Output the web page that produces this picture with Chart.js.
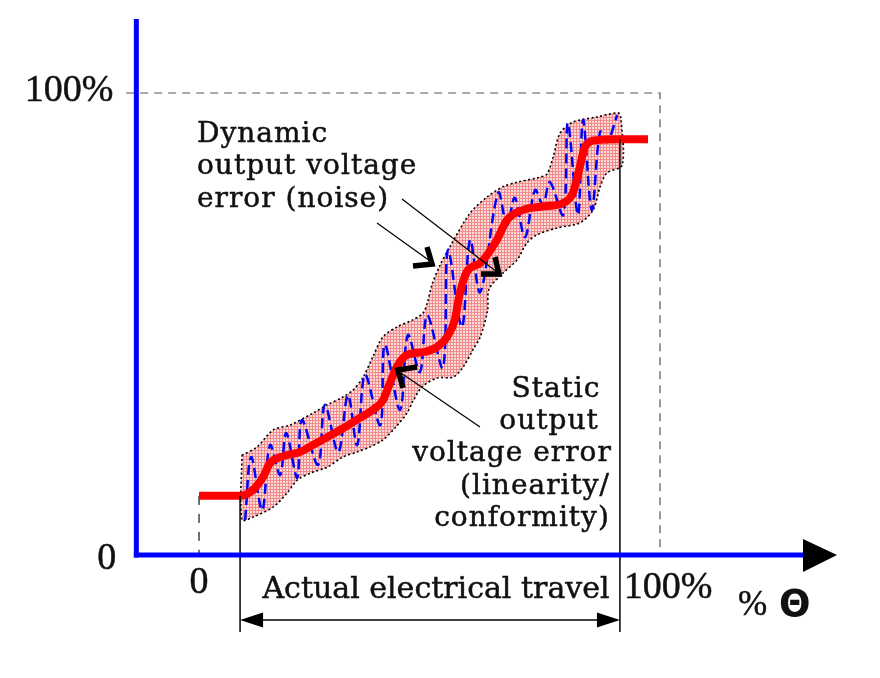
<!DOCTYPE html>
<html>
<head>
<meta charset="utf-8">
<script src="https://cdn.jsdelivr.net/npm/chart.js@4.4.1/dist/chart.umd.min.js"></script>
<style>
  html, body { margin: 0; background: #fff; }
  canvas { display: block; }
</style>
</head>
<body>
<canvas id="chart" width="880" height="678"></canvas>
<script>
// static output (red): % output vs % travel
const staticX = [0, 8.9, 11.7, 13.9, 15.4, 17.6, 21.9, 24.7, 27.8, 31.7, 34.9, 37.7, 39.9, 41.4, 42.9, 45.1, 48.6, 51.6, 53.8, 55.5, 56.4, 58.1, 61.0, 64.6, 66.8, 70.3, 75.1, 79.0, 81.1, 82.6, 83.7, 86.3, 91.3, 97.4];
const staticY = [12.8, 12.8, 14.1, 16.9, 19.9, 21.2, 22.3, 23.8, 25.5, 27.7, 29.7, 31.4, 33.5, 37.2, 40.7, 43.3, 43.9, 45.0, 47.2, 50.9, 55.8, 61.3, 63.2, 68.2, 72.5, 74.7, 75.5, 76.2, 78.4, 84.0, 88.3, 89.8, 90.0, 90.0];

// dynamic output with noise (blue dashed)
const noiseX = [10.0, 11.3, 13.7, 15.4, 17.6, 18.9, 21.3, 22.3, 25.8, 27.3, 30.2, 32.3, 34.3, 36.0, 39.3, 40.3, 43.6, 45.3, 47.9, 49.5, 52.9, 54.0, 57.0, 58.8, 61.0, 64.9, 66.8, 68.5, 70.7, 72.9, 74.6, 76.1, 79.0, 80.0, 82.2, 83.3, 85.2, 87.0, 88.5, 90.7];
const noiseY = [7.6, 21.2, 9.7, 23.8, 17.3, 26.4, 16.7, 29.2, 19.5, 32.5, 22.3, 34.6, 23.8, 39.0, 28.1, 45.5, 31.4, 47.6, 39.6, 51.9, 40.5, 66.0, 49.4, 68.2, 56.9, 78.4, 71.4, 77.3, 68.8, 79.0, 75.8, 80.7, 73.6, 93.5, 73.6, 94.2, 74.7, 91.6, 89.4, 95.2];

// error band outline: upper edge left->right, then lower edge right->left
const bandX = [9.3, 12.6, 16.1, 19.7, 24.7, 27.8, 31.2, 33.4, 35.6, 37.7, 39.9, 43.0, 46.4, 48.6, 49.5, 50.5, 52.3, 54.4, 58.8, 62.5, 65.9, 69.0, 74.0, 75.5, 76.8, 78.3, 81.1, 86.3, 90.9, 91.5, 91.8,
               88.5, 87.0, 85.5, 82.6, 77.7, 73.3, 71.1, 69.0, 65.9, 62.9, 62.6, 61.0, 59.4, 57.3, 55.1, 51.6, 48.4, 46.4, 45.1, 42.5, 39.9, 37.1, 34.3, 31.2, 27.8, 24.1, 21.3, 19.1, 16.1, 11.7, 9.3, 9.3];
const bandY = [21.6, 23.4, 27.1, 28.1, 30.7, 32.5, 34.2, 35.7, 38.5, 42.9, 47.2, 49.4, 50.9, 52.4, 54.5, 58.4, 62.8, 66.7, 74.0, 77.5, 79.7, 80.7, 81.8, 82.5, 86.1, 91.3, 93.7, 94.8, 95.7, 94.6, 84.4,
               82.7, 79.7, 74.7, 71.9, 70.8, 69.3, 67.5, 63.9, 61.0, 57.5, 53.0, 47.2, 44.4, 40.7, 38.5, 38.3, 36.4, 33.3, 30.7, 27.5, 24.9, 23.4, 22.3, 21.2, 19.0, 17.7, 16.2, 13.4, 10.4, 8.2, 7.6, 21.6];

const yTicks = [0, 100];
const xTicks = [0, 100];
const tickText = ['0', '100%'];
const travelStart = 8.9;
const travelEnd = 91.3;

const toPoints = (xs, ys) => xs.map((v, i) => ({ x: v, y: ys[i] }));

const canvas = document.getElementById('chart');

// pink checked fill like the original
const tile = document.createElement('canvas');
tile.width = 3; tile.height = 3;
const tctx = tile.getContext('2d');
tctx.fillStyle = '#fcdada';
tctx.fillRect(0, 0, 3, 3);
tctx.fillStyle = '#f08c8c';
tctx.fillRect(0, 0, 3, 1);
tctx.fillRect(0, 0, 1, 3);
const bandFill = canvas.getContext('2d').createPattern(tile, 'repeat');

const line = (ctx, x1, y1, x2, y2) => {
  ctx.beginPath();
  ctx.moveTo(x1, y1);
  ctx.lineTo(x2, y2);
  ctx.stroke();
};

const tri = (ctx, pts) => {
  ctx.beginPath();
  ctx.moveTo(pts[0], pts[1]);
  ctx.lineTo(pts[2], pts[3]);
  ctx.lineTo(pts[4], pts[5]);
  ctx.closePath();
  ctx.fill();
};

const chevron = (ctx, tipX, tipY, ax, ay, bx, by) => {
  ctx.save();
  ctx.lineWidth = 5.5;
  ctx.lineJoin = 'miter';
  ctx.beginPath();
  ctx.moveTo(ax, ay);
  ctx.lineTo(tipX, tipY);
  ctx.lineTo(bx, by);
  ctx.stroke();
  ctx.restore();
};

// text with a hairline stroke so it reads as heavy as the original
const label = (ctx, s, x, y) => {
  ctx.fillText(s, x, y);
  ctx.strokeText(s, x, y);
};

const decor = {
  id: 'decor',
  beforeDatasetsDraw(chart) {
    const { ctx, scales: { x, y } } = chart;
    ctx.save();
    ctx.strokeStyle = '#555';
    ctx.lineWidth = 1.2;
    ctx.setLineDash([8, 6]);
    ctx.beginPath();
    ctx.moveTo(x.getPixelForValue(-15.8), y.getPixelForValue(100));
    ctx.lineTo(x.getPixelForValue(100), y.getPixelForValue(100));
    ctx.lineTo(x.getPixelForValue(100), y.getPixelForValue(0));
    ctx.stroke();

    ctx.strokeStyle = '#444';
    ctx.lineWidth = 1.5;
    ctx.setLineDash([9, 9]);
    line(ctx, x.getPixelForValue(0), y.getPixelForValue(staticY[0]), x.getPixelForValue(0), y.getPixelForValue(0));
    ctx.restore();
  },
  afterDatasetsDraw(chart) {
    const { ctx, chartArea, scales: { x, y } } = chart;
    const x0 = y.getPixelForValue(0);
    const axisX = x.getPixelForValue(-13.6);
    ctx.save();

    // travel limits and dimension arrow
    const xs = x.getPixelForValue(travelStart);
    const xe = x.getPixelForValue(travelEnd);
    const bottom = x0 + 77;
    const dimY = x0 + 65;
    ctx.strokeStyle = '#000';
    ctx.fillStyle = '#000';
    ctx.lineWidth = 1.5;
    line(ctx, xs, y.getPixelForValue(staticY[1]), xs, bottom);
    line(ctx, xe, y.getPixelForValue(staticY[staticY.length - 2]), xe, bottom);
    line(ctx, xs + 10, dimY, xe - 10, dimY);
    tri(ctx, [xs, dimY, xs + 23, dimY - 7.5, xs + 23, dimY + 7.5]);
    tri(ctx, [xe, dimY, xe - 23, dimY - 7.5, xe - 23, dimY + 7.5]);

    // blue axes
    ctx.strokeStyle = '#0000ff';
    ctx.lineWidth = 5;
    line(ctx, axisX, chartArea.top, axisX, x0 + 2.5);
    line(ctx, axisX - 2.5, x0, 805, x0);
    ctx.fillStyle = '#000';
    tri(ctx, [803, x0 - 16, 803, x0 + 17, 837, x0]);

    // tick labels
    ctx.fillStyle = '#111';
    ctx.strokeStyle = '#111';
    ctx.lineWidth = 0.5;
    ctx.font = '38px "Liberation Serif"';
    ctx.textAlign = 'right';
    ctx.textBaseline = 'alphabetic';
    label(ctx, tickText[1], axisX - 23, y.getPixelForValue(yTicks[1]) + 8);
    label(ctx, tickText[0], axisX - 20, y.getPixelForValue(yTicks[0]) + 14);
    ctx.textAlign = 'center';
    label(ctx, tickText[0], x.getPixelForValue(xTicks[0]), x0 + 38);
    label(ctx, tickText[1], x.getPixelForValue(xTicks[1]) + 8, x0 + 43);

    ctx.font = '35px "Liberation Serif"';
    ctx.textAlign = 'left';
    label(ctx, '%', 738, x0 + 60);
    ctx.font = 'bold 37px "DejaVu Sans"';
    ctx.fillText('\u0398', 779, x0 + 61);

    ctx.font = '30px "DejaVu Serif"';
    ctx.textAlign = 'center';
    label(ctx, 'Actual electrical travel', (xs + xe) / 2 + 6, x0 + 43);

    // annotations
    ctx.font = '28px "DejaVu Serif"';
    ctx.letterSpacing = '1px';
    ctx.textAlign = 'left';
    label(ctx, 'Dynamic', 197, 142);
    label(ctx, 'output voltage', 197, 174);
    label(ctx, 'error (noise)', 197, 207);

    ctx.textAlign = 'center';
    label(ctx, 'Static', 556, 397);
    label(ctx, 'output', 549, 429);
    label(ctx, 'voltage error', 512, 461);
    label(ctx, '(linearity/', 535, 494);
    label(ctx, 'conformity)', 522, 526);
    ctx.letterSpacing = '0px';

    ctx.strokeStyle = '#000';
    ctx.lineWidth = 1.2;
    line(ctx, 377, 223, 430, 261);
    line(ctx, 402, 199, 497, 272);
    line(ctx, 401, 373, 480, 427);
    chevron(ctx, 432, 264, 413, 266, 427, 247);
    chevron(ctx, 499, 274, 481, 274, 495, 257);
    chevron(ctx, 398, 370, 417, 367, 403, 388);

    ctx.restore();
  }
};

new Chart(canvas, {
  type: 'scatter',
  data: {
    datasets: [
      {
        data: toPoints(staticX, staticY),
        showLine: true,
        borderColor: '#ff0000',
        borderWidth: 8,
        cubicInterpolationMode: 'monotone',
        pointRadius: 0,
        fill: false
      },
      {
        data: toPoints(noiseX, noiseY),
        showLine: true,
        borderColor: '#0000ff',
        borderWidth: 2.5,
        borderDash: [10, 5],
        tension: 0.35,
        pointRadius: 0,
        fill: false
      },
      {
        data: toPoints(bandX, bandY),
        showLine: true,
        fill: 'shape',
        backgroundColor: bandFill,
        borderColor: '#000',
        borderWidth: 1.6,
        borderDash: [2, 2.5],
        tension: 0.3,
        pointRadius: 0
      }
    ]
  },
  options: {
    responsive: false,
    animation: false,
    layout: { padding: { left: 134.5, right: 44.8, top: 19.1, bottom: 123 } },
    scales: {
      x: { type: 'linear', min: -14, max: 138, display: false },
      y: { type: 'linear', min: 0, max: 116, display: false }
    },
    plugins: {
      legend: { display: false },
      tooltip: { enabled: false }
    }
  },
  plugins: [decor]
});
</script>
</body>
</html>
